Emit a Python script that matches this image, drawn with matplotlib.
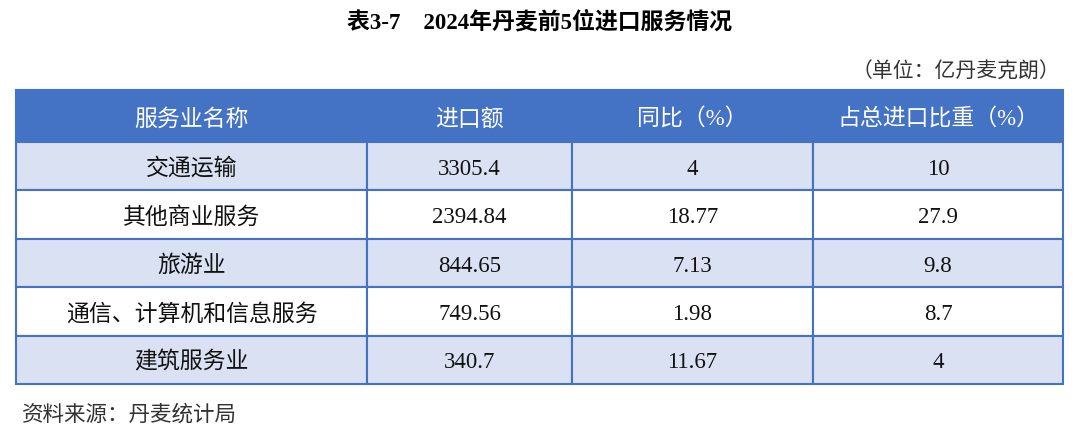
import matplotlib.pyplot as plt
from matplotlib.patches import Rectangle

plt.rcParams['font.family'] = ['Liberation Serif', 'Noto Sans CJK SC', 'DejaVu Sans']

title = "表3-7    2024年丹麦前5位进口服务情况"
unit = "（单位：亿丹麦克朗）"
source = "资料来源：丹麦统计局"
headers = ["服务业名称", "进口额", "同比（%）", "占总进口比重（%）"]
services = ["交通运输", "其他商业服务", "旅游业", "通信、计算机和信息服务", "建筑服务业"]
imports = ["3305.4", "2394.84", "844.65", "749.56", "340.7"]
yoy = ["4", "18.77", "7.13", "1.98", "11.67"]
share = ["10", "27.9", "9.8", "8.7", "4"]

BLUE = "#4472C4"
LIGHT = "#D9E1F3"
col_edges = [16, 367, 572, 813, 1063]
top, head_h, row_h = 90, 52, 48.4

fig = plt.figure(figsize=(10.8, 4.38), dpi=100)
ax = fig.add_axes([0, 0, 1, 1])
ax.set_xlim(0, 1080)
ax.set_ylim(438, 0)
ax.axis("off")

ax.text(540, 22, title, ha="center", va="center", fontsize=16.5, fontweight="bold")
ax.text(1060, 73, unit, ha="right", va="center", fontsize=15, color="#333333")

# header
ax.add_patch(Rectangle((col_edges[0], top), col_edges[-1] - col_edges[0], head_h,
                       facecolor=BLUE, edgecolor=BLUE, lw=1.5))
for i, h in enumerate(headers):
    xc = (col_edges[i] + col_edges[i + 1]) / 2
    ax.text(xc, top + head_h / 2 + 4, h, ha="center", va="center", fontsize=16.5, color="white")

# body
columns = [services, imports, yoy, share]
for r in range(len(services)):
    y0 = top + head_h + r * row_h
    fc = LIGHT if r % 2 == 0 else "white"
    for c in range(4):
        ax.add_patch(Rectangle((col_edges[c], y0), col_edges[c + 1] - col_edges[c], row_h,
                               facecolor=fc, edgecolor=BLUE, lw=1.5))
        xc = (col_edges[c] + col_edges[c + 1]) / 2
        ax.text(xc, y0 + row_h / 2 + 3, columns[c][r], ha="center", va="center",
                fontsize=16.5, color="#111111")

ax.text(22, 415, source, ha="left", va="center", fontsize=15.5, color="#333333")

fig.savefig("out.png", dpi=100)
